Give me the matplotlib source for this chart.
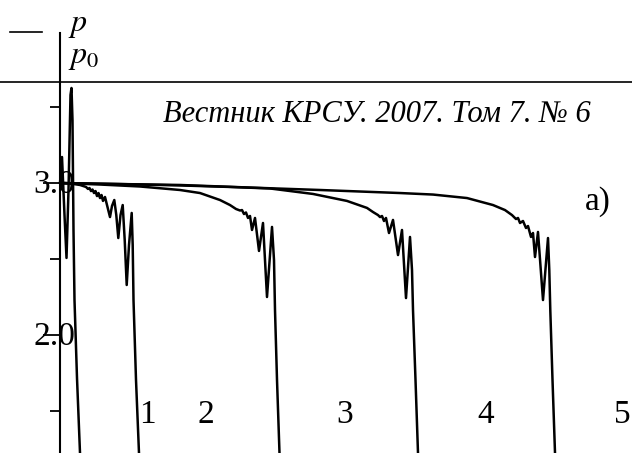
import matplotlib
matplotlib.use("Agg")
import matplotlib.pyplot as plt
from matplotlib.lines import Line2D

plt.rcParams['font.family'] = ['Liberation Serif', 'DejaVu Serif']
plt.rcParams['mathtext.fontset'] = 'stix'

# ---- data (t in arbitrary time units, p/p0) ----
t1 = [0, 0.0144, 0.0324, 0.0468, 0.0612, 0.0755, 0.0827, 0.0899, 0.0971, 0.1043, 0.1223, 0.1439, 0.1475]
p1 = [3.000, 3.171, 2.789, 2.507, 2.954, 3.579, 3.625, 3.414, 2.691, 2.230, 1.717, 1.224, 0.980]

t2 = [0, 0.0719, 0.1439, 0.1871, 0.2014, 0.2122, 0.2230, 0.2338, 0.2446, 0.2554, 0.2662, 0.2770,
      0.2878, 0.2986, 0.3094, 0.3237, 0.3417, 0.3597, 0.3741, 0.3906, 0.4050, 0.4194, 0.4353,
      0.4511, 0.4655, 0.4799, 0.4964, 0.5158, 0.5230, 0.5288, 0.5468, 0.5683, 0.5719]
p2 = [3.000, 2.997, 2.987, 2.974, 2.961, 2.967, 2.947, 2.957, 2.934, 2.947, 2.914, 2.934,
      2.901, 2.921, 2.882, 2.908, 2.842, 2.776, 2.849, 2.888, 2.789, 2.638, 2.789,
      2.855, 2.625, 2.329, 2.592, 2.803, 2.592, 2.230, 1.704, 1.224, 0.980]

t3 = [0, 0.2878, 0.5755, 0.8633, 1.0072, 1.1511, 1.2230, 1.2662, 1.2950, 1.3094, 1.3237, 1.3381,
      1.3525, 1.3669, 1.3813, 1.4029, 1.4317, 1.4604, 1.4892, 1.5252, 1.5396, 1.5468, 1.5612,
      1.5791, 1.5827]
p3 = [3.000, 2.990, 2.977, 2.954, 2.934, 2.888, 2.855, 2.829, 2.819, 2.822, 2.796, 2.806,
      2.770, 2.783, 2.691, 2.770, 2.553, 2.737, 2.250, 2.711, 2.493, 2.164, 1.704,
      1.224, 0.980]

t4 = [0, 0.4317, 0.8633, 1.2230, 1.5108, 1.8201, 2.0647, 2.2086, 2.2518, 2.2878, 2.3022, 2.3165,
      2.3309, 2.3453, 2.3669, 2.3957, 2.4317, 2.4604, 2.4892, 2.5180, 2.5324, 2.5396, 2.5576,
      2.5755, 2.5791]
p4 = [3.000, 2.993, 2.984, 2.974, 2.964, 2.928, 2.882, 2.836, 2.809, 2.789, 2.776, 2.783,
      2.750, 2.770, 2.671, 2.757, 2.526, 2.691, 2.243, 2.645, 2.428, 2.164, 1.704,
      1.224, 0.980]

t5 = [0, 0.4317, 0.8633, 1.3669, 1.8705, 2.4460, 2.6835, 2.9281, 3.1151, 3.2014, 3.2518, 3.2806,
      3.2950, 3.3094, 3.3309, 3.3525, 3.3669, 3.3885, 3.4029, 3.4173, 3.4388, 3.4748, 3.5108,
      3.5201, 3.5273, 3.5432, 3.5612, 3.5647]
p5 = [3.000, 2.993, 2.987, 2.970, 2.954, 2.934, 2.924, 2.901, 2.855, 2.822, 2.789, 2.763,
      2.770, 2.737, 2.750, 2.704, 2.717, 2.645, 2.671, 2.513, 2.678, 2.230, 2.638,
      2.428, 2.164, 1.704, 1.224, 0.980]

curve_labels = ["1", "2", "3", "4", "5"]
curve_label_t = [0.626, 1.050, 2.050, 3.065, 4.043]
curve_label_p = 1.474

major_ticks = [2.0, 3.0]
minor_ticks = [1.5, 2.5, 3.5]
major_labels = ["2.0", "3.0"]

header = "Вестник КРСУ. 2007. Том 7. № 6"

# ---- figure ----
fig = plt.figure(figsize=(6.32, 4.53), dpi=100)
ax = fig.add_axes([0, 0, 1, 1])
ax.set_xlim(-60 / 139, 572 / 139)
ax.set_ylim(3 - 270 / 152, 3 + 183 / 152)
ax.patch.set_alpha(0)

for s in ['top', 'right', 'bottom']:
    ax.spines[s].set_visible(False)
ax.spines['left'].set_position(('data', 0))
ax.spines['left'].set_linewidth(1.5)
ax.spines['left'].set_bounds(1.0, 3 + 150 / 152)

ax.set_xticks([])
ax.set_yticks(major_ticks)
ax.set_yticks(minor_ticks, minor=True)
ax.set_yticklabels([])
ax.tick_params(axis='y', which='major', direction='out', length=12, width=1.3)
ax.tick_params(axis='y', which='minor', direction='out', length=7.2, width=1.3)

for tt, pp in [(t1, p1), (t2, p2), (t3, p3), (t4, p4), (t5, p5)]:
    ax.plot(tt, pp, color='black', lw=1.8, solid_joinstyle='round', solid_capstyle='round')

for lab, v in zip(major_labels, major_ticks):
    ax.text(-0.043, v - 0.01, lab, ha='center', va='center', fontsize=24, color='black')

for lab, tx in zip(curve_labels, curve_label_t):
    ax.text(tx, curve_label_p, lab, ha='center', va='center', fontsize=24, color='black')

ax.text(3.871, 2.88, "a)", ha='center', va='center', fontsize=24, color='black')

fig.text(0.596, 1 - 122 / 453, header, ha='center', va='baseline', fontsize=22, style='italic')
fig.text(68 / 632, 1 - 25 / 453, r"$p$", ha='left', va='center', fontsize=23)
fig.text(68 / 632, 1 - 58 / 453, r"$p_0$", ha='left', va='center', fontsize=23)

fig.add_artist(Line2D([10 / 632, 42 / 632], [1 - 32 / 453, 1 - 32 / 453], color='black', lw=1.2,
                      transform=fig.transFigure))
fig.add_artist(Line2D([0, 1], [1 - 82 / 453, 1 - 82 / 453], color='black', lw=1.2,
                      transform=fig.transFigure))

fig.savefig("out.png", dpi=100, facecolor='white')
